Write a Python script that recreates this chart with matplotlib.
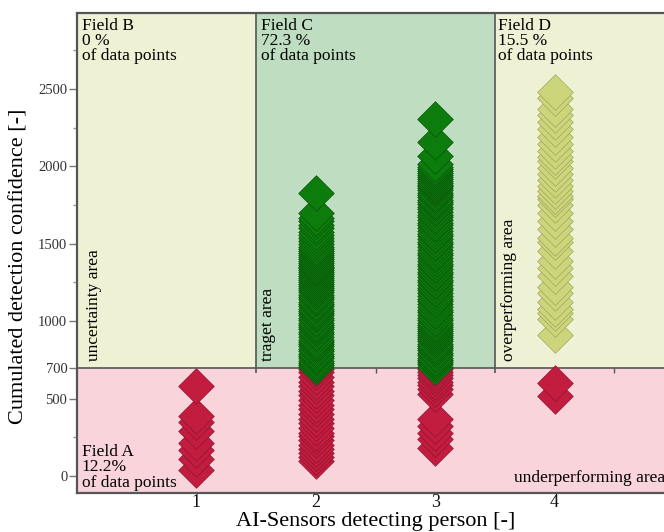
import matplotlib
matplotlib.use("Agg")
import matplotlib.pyplot as plt
from matplotlib.patches import Rectangle
from matplotlib.ticker import FixedLocator

plt.rcParams['font.family'] = ['Liberation Serif', 'DejaVu Serif']

# ---- data ----
sensors = [1, 2, 3, 4]
x_ticklabels = ["1", "2", "3", "4"]
y_major = [0, 500, 700, 1000, 1500, 2000, 2500]
y_minor = [250, 1250, 1750, 2250, 2750]

# points below threshold (Field A), per sensor count
red_1 = [40, 110, 170, 215, 290, 350, 390, 580]
red_2 = [97, 120, 150, 175, 200, 230, 255, 280, 310, 340, 370, 400, 430,
         460, 490, 520, 550, 580, 610, 640, 670, 690]
red_3 = [180, 240, 280, 320, 370, 530, 560, 590, 610, 630, 650, 670, 690]
red_4 = [516, 600]

# target area (Field C)
green_2 = [705, 718, 730, 745, 760, 772, 790, 805, 820, 838, 850, 868, 880,
           900, 915, 930, 948, 960, 978, 990, 1005, 1020, 1038, 1050, 1065,
           1080, 1098, 1110, 1125, 1140, 1158, 1170, 1185, 1200, 1215, 1228,
           1240, 1255, 1268, 1280, 1292, 1305, 1318, 1330, 1340, 1352, 1365,
           1375, 1388, 1400, 1412, 1425, 1438, 1450, 1465, 1480, 1498, 1515,
           1535, 1555, 1578, 1600, 1622, 1645, 1668, 1700, 1826]
green_3 = [705, 720, 738, 750, 765, 780, 795, 812, 825, 840, 855, 870, 885,
           898, 910, 922, 935, 948, 960, 975, 990, 1005, 1022, 1040, 1058,
           1075, 1092, 1110, 1128, 1145, 1162, 1180, 1198, 1215, 1232, 1250,
           1268, 1285, 1302, 1320, 1338, 1355, 1372, 1390, 1408, 1425, 1442,
           1460, 1478, 1495, 1512, 1530, 1548, 1565, 1582, 1600, 1618, 1635,
           1652, 1670, 1688, 1705, 1722, 1740, 1755, 1770, 1785, 1800, 1815,
           1830, 1845, 1858, 1870, 1882, 1895, 1906, 1918, 1930, 1942, 1955,
           1968, 1980, 1995, 2013, 2065, 2155, 2303]

# overperforming area (Field D)
yellow_4 = [910, 1013, 1050, 1077, 1123, 1180, 1219, 1290, 1340, 1387, 1450,
            1510, 1540, 1594, 1645, 1700, 1750, 1787, 1810, 1840, 1871, 1910,
            1948, 1990, 2032, 2060, 2100, 2142, 2187, 2240, 2284, 2330, 2368,
            2440, 2477]

threshold = 700
field_bounds = [1.5, 3.5]
minor_x_marks = [2.5, 4.5]

# ---- style ----
C_RED, E_RED = "#C21C3E", "#8E1430"
C_GREEN, E_GREEN = "#0C7C0C", "#0A4F0A"
C_YEL, E_YEL = "#CDD57B", "#9BA25C"
BG_YEL, BG_GREEN, BG_PINK = "#EEF1D3", "#BEDDC1", "#F9D4DB"
FRAME = "#555555"

XMIN, XMAX = 0, 5
YMIN, YMAX = -110, 2990

fig = plt.figure(figsize=(6.64, 5.32), dpi=100)
ax = fig.add_axes([77/664, 39/532, 597/664, 480/532])
ax.set_xlim(XMIN, XMAX)
ax.set_ylim(YMIN, YMAX)

# background fields
ax.add_patch(Rectangle((XMIN, YMIN), XMAX - XMIN, threshold - YMIN,
                       facecolor=BG_PINK, edgecolor="none", zorder=0))
ax.add_patch(Rectangle((XMIN, threshold), field_bounds[0] - XMIN, YMAX - threshold,
                       facecolor=BG_YEL, edgecolor="none", zorder=0))
ax.add_patch(Rectangle((field_bounds[0], threshold), field_bounds[1] - field_bounds[0],
                       YMAX - threshold, facecolor=BG_GREEN, edgecolor="none", zorder=0))
ax.add_patch(Rectangle((field_bounds[1], threshold), XMAX - field_bounds[1],
                       YMAX - threshold, facecolor=BG_YEL, edgecolor="none", zorder=0))

ax.axhline(threshold, color=FRAME, lw=1.2, zorder=1)
ax.vlines(field_bounds, threshold - 35, YMAX, color=FRAME, lw=1.2, zorder=1)
ax.vlines(minor_x_marks, threshold - 35, threshold, color=FRAME, lw=1.0, zorder=1)

MS = 330
LW = 0.45


def col(xv, vals, fc, ec, z):
    ax.scatter([xv] * len(vals), sorted(vals), marker="D", s=MS,
               facecolor=fc, edgecolor=ec, linewidths=LW, zorder=z)


col(sensors[0], red_1, C_RED, E_RED, 3)
col(sensors[1], red_2, C_RED, E_RED, 3)
col(sensors[2], red_3, C_RED, E_RED, 3)
col(sensors[3], red_4, C_RED, E_RED, 3)
col(sensors[1], green_2, C_GREEN, E_GREEN, 4)
col(sensors[2], green_3, C_GREEN, E_GREEN, 4)
col(sensors[3], yellow_4, C_YEL, E_YEL, 4)

# frame
for sp in ax.spines.values():
    sp.set_color(FRAME)
    sp.set_linewidth(1.6)
    sp.set_zorder(6)

ax.set_xticks(sensors)
ax.set_xticklabels(x_ticklabels, fontsize=13)
ax.tick_params(axis="x", length=0, pad=1, colors="#111111")
ax.yaxis.set_major_locator(FixedLocator(y_major))
ax.yaxis.set_minor_locator(FixedLocator(y_minor))
ax.set_yticklabels([str(v) for v in y_major])
ax.tick_params(axis="y", which="major", direction="out", length=6, width=1,
               color="#777777", labelsize=10.5, labelcolor="#333333", pad=1)
ax.tick_params(axis="y", which="minor", direction="out", length=3, width=1,
               color="#999999")

ax.set_xlabel("AI-Sensors detecting person [-]", fontsize=16)
ax.xaxis.set_label_coords(0.5, -0.04)
ax.xaxis.label.set_va("top")
ax.set_ylabel("Cumulated detection confidence [-]", fontsize=16)
ax.yaxis.set_label_coords(-0.082, 0.473)

TS = 12.5
ax.text(0.04, 2960, "Field B\n0 %\nof data points", fontsize=TS, va="top",
        ha="left", linespacing=0.95, zorder=7)
ax.text(1.54, 2960, "Field C\n72.3 %\nof data points", fontsize=TS, va="top",
        ha="left", linespacing=0.95, zorder=7)
ax.text(3.53, 2960, "Field D\n15.5 %\nof data points", fontsize=TS, va="top",
        ha="left", linespacing=0.95, zorder=7)
ax.text(0.04, -95, "Field A\n12.2%\nof data points", fontsize=TS, va="bottom",
        ha="left", linespacing=0.95, zorder=7)

ax.text(0.14, 742, "uncertainty area", fontsize=TS, rotation=90, ha="center",
        va="bottom", zorder=7)
ax.text(1.6, 742, "traget area", fontsize=TS, rotation=90, ha="center",
        va="bottom", zorder=7)
ax.text(3.62, 742, "overperforming area", fontsize=TS, rotation=90, ha="center",
        va="bottom", zorder=7)
ax.text(3.66, -15, "underperforming area", fontsize=TS, ha="left",
        va="center", zorder=7)

fig.savefig("out.png", dpi=100)
